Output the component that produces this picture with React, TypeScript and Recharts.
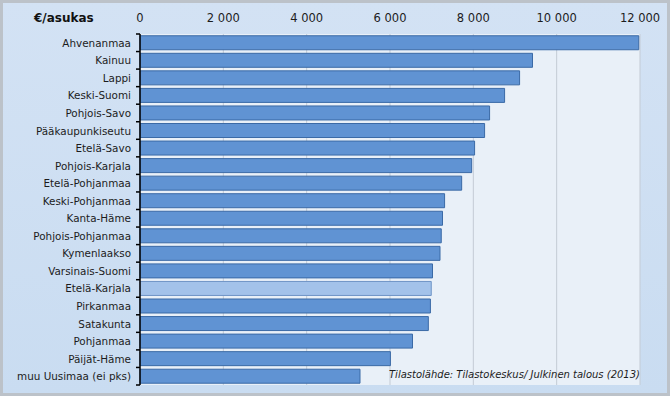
import { BarChart, Bar, XAxis, YAxis, CartesianGrid, Cell } from 'recharts';

const regions = [
  'Ahvenanmaa',
  'Kainuu',
  'Lappi',
  'Keski-Suomi',
  'Pohjois-Savo',
  'Pääkaupunkiseutu',
  'Etelä-Savo',
  'Pohjois-Karjala',
  'Etelä-Pohjanmaa',
  'Keski-Pohjanmaa',
  'Kanta-Häme',
  'Pohjois-Pohjanmaa',
  'Kymenlaakso',
  'Varsinais-Suomi',
  'Etelä-Karjala',
  'Pirkanmaa',
  'Satakunta',
  'Pohjanmaa',
  'Päijät-Häme',
  'muu Uusimaa (ei pks)',
];

// €/asukas
const values = [
  11970, 9420, 9110, 8750, 8390, 8270, 8030, 7960, 7720, 7310,
  7260, 7230, 7200, 7020, 6990, 6970, 6920, 6540, 6010, 5280,
];

const highlighted = 'Etelä-Karjala';
const xTicks = [0, 2000, 4000, 6000, 8000, 10000, 12000];

const data = regions.map((name, i) => ({ name, value: values[i] }));

const W = 670;
const H = 396;
const PLOT_TOP = 34;
const PLOT_BOTTOM = 385;
const BAND = (PLOT_BOTTOM - PLOT_TOP) / regions.length;

const font = '"DejaVu Sans", Verdana, sans-serif';
const fmt = (v: number) => v.toLocaleString('en-US').replace(/,/g, ' ');

const RegionTick = (props: any) => {
  const { x, y, payload, index, visibleTicksCount } = props;
  const half = BAND / 2;
  return (
    <g>
      <line x1={x + 5} x2={x + 9} y1={y - half} y2={y - half} stroke="#000" strokeWidth={1.5} />
      {index === visibleTicksCount - 1 && (
        <line x1={x + 5} x2={x + 9} y1={y + half} y2={y + half} stroke="#000" strokeWidth={1.5} />
      )}
      <text x={x} y={y} dy={4} textAnchor="end" fontSize={10.4} fontFamily={font} fill="#1c1c1c">
        {payload.value}
      </text>
    </g>
  );
};

export default function App() {
  return (
    <div
      style={{
        position: 'absolute',
        left: 0,
        top: 0,
        width: W,
        height: H,
        background: 'linear-gradient(180deg, #d3e2f4 0%, #c9dcf1 100%)',
        fontFamily: font,
      }}
    >
      <BarChart
        width={W}
        height={H}
        layout="vertical"
        data={data}
        margin={{ top: PLOT_TOP - 20, right: 30, bottom: H - PLOT_BOTTOM, left: 0 }}
        barCategoryGap="10%"
      >
        <CartesianGrid horizontal={false} stroke="#c3cbd5" fill="#e9f0f8" />
        <XAxis
          type="number"
          orientation="top"
          domain={[0, 12000]}
          ticks={xTicks}
          tickFormatter={fmt}
          axisLine={false}
          tickLine={false}
          height={20}
          tickSize={4}
          tickMargin={8}
          tick={{ fontSize: 11.5, fontFamily: font, fill: '#1c1c1c' }}
          interval={0}
        />
        <YAxis
          type="category"
          dataKey="name"
          width={140}
          axisLine={{ stroke: '#000', strokeWidth: 1.5 }}
          tickLine={false}
          tickSize={4}
          tickMargin={5}
          tick={<RegionTick />}
          interval={0}
        />
        <Bar dataKey="value" isAnimationActive={false} stroke="#3b6aa6" strokeWidth={1}>
          {data.map((d) => (
            <Cell
              key={d.name}
              fill={d.name === highlighted ? '#a3c2ea' : '#6093d3'}
              stroke={d.name === highlighted ? '#6f94c6' : '#3b6aa6'}
            />
          ))}
        </Bar>
      </BarChart>
      <div
        style={{
          position: 'absolute',
          left: 34,
          top: 11,
          fontSize: 12,
          fontWeight: 'bold',
          color: '#111',
        }}
      >
        €/asukas
      </div>
      <div
        style={{
          position: 'absolute',
          right: 30,
          top: 369,
          fontSize: 10,
          fontStyle: 'italic',
          color: '#1c1c1c',
        }}
      >
        Tilastolähde: Tilastokeskus/ Julkinen talous (2013)
      </div>
      <div
        style={{
          position: 'absolute',
          inset: 0,
          border: '3px solid #bcc2c9',
          pointerEvents: 'none',
        }}
      />
    </div>
  );
}
